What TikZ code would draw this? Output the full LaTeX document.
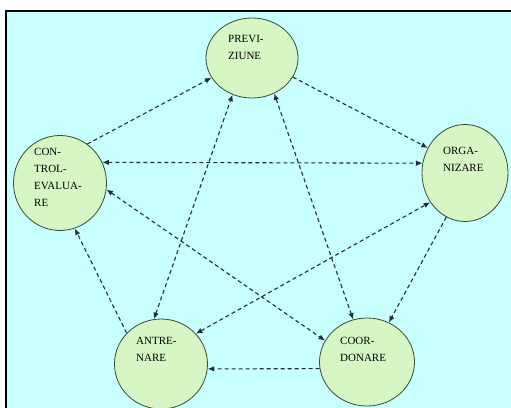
\documentclass[tikz,border=0pt]{standalone}
\usepackage{fontspec}
\setmainfont{Liberation Serif}
\usepackage{tikz}
\usetikzlibrary{shapes.geometric, arrows.meta}

\definecolor{bgcyan}{RGB}{200,255,255}
\definecolor{bubble}{RGB}{214,246,196}
\definecolor{rim}{RGB}{55,75,55}
\definecolor{dashink}{RGB}{35,45,55}

\tikzset{
    phase/.style={ellipse, draw=rim, line width=0.8pt, fill=bubble, inner sep=0pt},
    phasetext/.style={anchor=north west, inner sep=0pt, align=left,
        font=\fontsize{11}{17}\selectfont},
    link/.style={draw=dashink, line width=1.1pt, dash pattern=on 4pt off 3pt,
        -{Latex[length=6.5pt, width=5.5pt]}},
    twoway/.style={link, {Latex[length=6.5pt, width=5.5pt]}-{Latex[length=6.5pt, width=5.5pt]}}
}

\begin{document}
\begin{tikzpicture}[x=1pt, y=-1pt]
    \useasboundingbox (0, 0) rectangle (511, 407);
    \clip (0, 0) rectangle (511, 407);

    % draw frame
    \filldraw[fill=bgcyan, draw=black, line width=2.2pt] (6, 11) rectangle (530, 430);

    % draw phases
    \node[phase, minimum width=92pt, minimum height=80pt] (prev) at (252, 58) {};
    \node[phase, minimum width=93pt, minimum height=95pt] (ctrl) at (60, 183) {};
    \node[phase, minimum width=86pt, minimum height=97pt] (org) at (465, 173) {};
    \node[phase, minimum width=93pt, minimum height=90pt] (antr) at (161, 364) {};
    \node[phase, minimum width=95pt, minimum height=88pt] (coor) at (367, 362) {};

    % draw labels
    \node[phasetext, xshift=-24pt, yshift=23pt] (prevtxt) at (prev.center) {PREVI-\\ZIUNE};
    \node[phasetext, xshift=-26pt, yshift=35pt] (ctrltxt) at (ctrl.center) {CON-\\TROL-\\EVALUA-\\RE};
    \node[phasetext, xshift=-22pt, yshift=26pt] (orgtxt) at (org.center) {ORGA-\\NIZARE};
    \node[phasetext, xshift=-25pt, yshift=27pt] (antrtxt) at (antr.center) {ANTRE-\\NARE};
    \node[phasetext, xshift=-27pt, yshift=25pt] (coortxt) at (coor.center) {COOR-\\DONARE};

    % draw links
    \draw[link] (ctrl.55) -- (prev.206);
    \draw[link] (prev.-25) -- (org.146);
    \draw[link] (org.247) -- (coor.61);
    \draw[link] (coor.188) -- (antr.-6);
    \draw[link] (antr.138) -- (ctrl.-72);

    \draw[twoway] (ctrl.26) -- (org.167);
    \draw[twoway] (antr.99) -- (prev.242);
    \draw[twoway] (prev.-58) -- (coor.108);
    \draw[twoway] (ctrl.-8) -- (coor.153);
    \draw[twoway] (antr.41) -- (org.220);
\end{tikzpicture}
\end{document}
